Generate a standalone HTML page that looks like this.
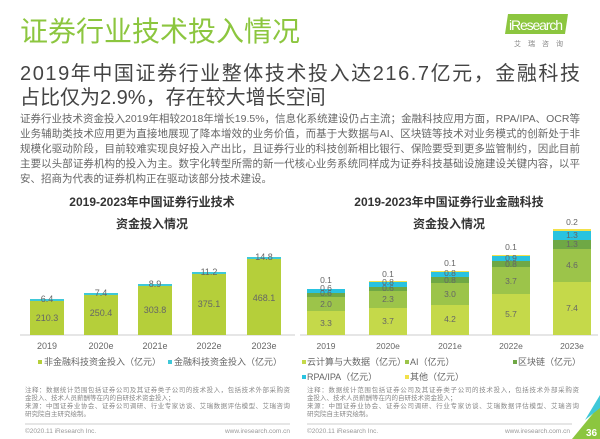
<!DOCTYPE html>
<html><head><meta charset="utf-8"><style>
html,body{margin:0;padding:0;background:#fff;}
svg{display:block;font-family:"Liberation Sans","Noto Sans CJK SC",sans-serif;}
</style></head><body>
<svg width="600" height="439" viewBox="0 0 600 439" xmlns="http://www.w3.org/2000/svg">
<rect width="600" height="439" fill="#fff"/>
<text x="20" y="41" font-size="28" fill="#8cc63f">证券行业技术投入情况</text>
<polygon points="508,14 568,14 565,34 505,34" fill="#8cc63f"/>
<text x="509" y="30" font-size="14" fill="#fff" textLength="54">iResearch</text>
<text x="514" y="46" font-size="7" fill="#888" letter-spacing="7">艾瑞咨询</text>
<text x="20" y="80" font-size="20" fill="#444" textLength="560">2019年中国证券行业整体技术投入达216.7亿元，金融科技</text>
<text x="20" y="104" font-size="20" fill="#444">占比仅为2.9%，存在较大增长空间</text>
<g font-size="10.5" fill="#666">
<text x="20" y="122" textLength="560">证券行业技术资金投入2019年相较2018年增长19.5%，信息化系统建设仍占主流；金融科技应用方面，RPA/IPA、OCR等</text>
<text x="20" y="137" textLength="560">业务辅助类技术应用更为直接地展现了降本增效的业务价值，而基于大数据与AI、区块链等技术对业务模式的创新处于非</text>
<text x="20" y="152" textLength="560">规模化驱动阶段，目前较难实现良好投入产出比，且证券行业的科技创新相比银行、保险要受到更多监管制约，因此目前</text>
<text x="20" y="167" textLength="560">主要以头部证券机构的投入为主。数字化转型所需的新一代核心业务系统同样成为证券科技基础设施建设关键内容，以平</text>
<text x="20" y="182">安、招商为代表的证券机构正在驱动该部分技术建设。</text>
</g>
<g font-size="12" font-weight="bold" fill="#333" text-anchor="middle">
<text x="152" y="206">2019-2023年中国证券行业技术</text>
<text x="152" y="228">资金投入情况</text>
<text x="449" y="206">2019-2023年中国证券行业金融科技</text>
<text x="449" y="228">资金投入情况</text>
</g>
<line x1="20" y1="335" x2="295" y2="335" stroke="#ccc" stroke-width="1"/>
<g fill="#b5cf3a">
<rect x="30" y="301" width="34" height="34"/>
<rect x="84" y="295" width="34" height="40"/>
<rect x="138" y="286" width="34" height="49"/>
<rect x="192" y="274" width="34" height="61"/>
<rect x="247" y="259" width="34" height="76"/>
</g>
<g fill="#3fc8d8">
<rect x="30" y="299" width="34" height="2"/>
<rect x="84" y="293" width="34" height="2"/>
<rect x="138" y="284" width="34" height="2"/>
<rect x="192" y="272" width="34" height="2"/>
<rect x="247" y="257" width="34" height="2"/>
</g>
<g font-size="9" fill="#666" text-anchor="middle">
<text x="47" y="302">6.4</text><text x="101" y="296">7.4</text><text x="155" y="287">8.9</text><text x="209" y="275">11.2</text><text x="264" y="260">14.8</text>
<text x="47" y="321">210.3</text><text x="101" y="316">250.4</text><text x="155" y="313">303.8</text><text x="209" y="307">375.1</text><text x="264" y="301">468.1</text>
<text x="47" y="349">2019</text><text x="101" y="349">2020e</text><text x="155" y="349">2021e</text><text x="209" y="349">2022e</text><text x="264" y="349">2023e</text>
</g>
<g font-size="9" fill="#666">
<rect x="38" y="360" width="4" height="4" fill="#b5cf3a"/><text x="44" y="365">非金融科技资金投入（亿元）</text>
<rect x="168" y="360" width="4" height="4" fill="#3fc8d8"/><text x="174" y="365">金融科技资金投入（亿元）</text>
</g>
<line x1="300" y1="335" x2="598" y2="335" stroke="#ccc" stroke-width="1"/>
<g>
<rect x="307" y="311" width="38" height="24" fill="#c5d94a"/>
<rect x="307" y="297" width="38" height="14" fill="#9cc44a"/>
<rect x="307" y="293" width="38" height="4" fill="#6fa845"/>
<rect x="307" y="289" width="38" height="4" fill="#29c3e0"/>
<rect x="369" y="308" width="38" height="27" fill="#c5d94a"/>
<rect x="369" y="291" width="38" height="17" fill="#9cc44a"/>
<rect x="369" y="287" width="38" height="4" fill="#6fa845"/>
<rect x="369" y="282" width="38" height="5" fill="#29c3e0"/>
<rect x="369" y="281" width="38" height="1" fill="#f2e14b"/>
<rect x="431" y="305" width="38" height="30" fill="#c5d94a"/>
<rect x="431" y="283" width="38" height="22" fill="#9cc44a"/>
<rect x="431" y="277" width="38" height="6" fill="#6fa845"/>
<rect x="431" y="272" width="38" height="5" fill="#29c3e0"/>
<rect x="431" y="271" width="38" height="1" fill="#f2e14b"/>
<rect x="492" y="294" width="38" height="41" fill="#c5d94a"/>
<rect x="492" y="267" width="38" height="27" fill="#9cc44a"/>
<rect x="492" y="261" width="38" height="6" fill="#6fa845"/>
<rect x="492" y="256" width="38" height="5" fill="#29c3e0"/>
<rect x="492" y="255" width="38" height="1" fill="#f2e14b"/>
<rect x="553" y="282" width="38" height="53" fill="#c5d94a"/>
<rect x="553" y="249" width="38" height="33" fill="#9cc44a"/>
<rect x="553" y="240" width="38" height="9" fill="#6fa845"/>
<rect x="553" y="231" width="38" height="9" fill="#29c3e0"/>
<rect x="553" y="229" width="38" height="2" fill="#f2e14b"/>
</g>
<g font-size="8.5" fill="#666" text-anchor="middle">
<text x="326" y="326">3.3</text><text x="326" y="307">2.0</text><text x="326" y="296">0.6</text><text x="326" y="291">0.6</text><text x="326" y="283">0.1</text>
<text x="388" y="324">3.7</text><text x="388" y="302">2.3</text><text x="388" y="291">0.6</text><text x="388" y="285">0.8</text><text x="388" y="277">0.1</text>
<text x="450" y="322">4.2</text><text x="450" y="297">3.0</text><text x="450" y="283">0.8</text><text x="450" y="276">0.8</text><text x="450" y="266">0.1</text>
<text x="511" y="317">5.7</text><text x="511" y="284">3.7</text><text x="511" y="267">0.8</text><text x="511" y="261">0.9</text><text x="511" y="250">0.1</text>
<text x="572" y="311">7.4</text><text x="572" y="268">4.6</text><text x="572" y="247">1.3</text><text x="572" y="238">1.3</text><text x="572" y="225">0.2</text>
<text x="326" y="349">2019</text><text x="388" y="349">2020e</text><text x="450" y="349">2021e</text><text x="511" y="349">2022e</text><text x="572" y="349">2023e</text>
</g>
<g font-size="9" fill="#666">
<rect x="302" y="360" width="4" height="4" fill="#c5d94a"/><text x="307" y="365">云计算与大数据（亿元）</text>
<rect x="405" y="360" width="4" height="4" fill="#9cc44a"/><text x="410" y="365">AI（亿元）</text>
<rect x="513" y="360" width="4" height="4" fill="#6fa845"/><text x="518" y="365">区块链（亿元）</text>
<rect x="302" y="375" width="4" height="4" fill="#29c3e0"/><text x="307" y="380">RPA/IPA（亿元）</text>
<rect x="405" y="375" width="4" height="4" fill="#f2e14b"/><text x="410" y="380">其他（亿元）</text>
</g>
<g font-size="6.5" fill="#888">
<text x="25" y="392" textLength="265">注释：数据统计范围包括证券公司及其证券类子公司的技术投入，包括技术外部采购资</text>
<text x="25" y="400">金投入、技术人员薪酬等在内的自研技术资金投入；</text>
<text x="25" y="408" textLength="265">来源：中国证券业协会、证券公司调研、行业专家访谈、艾瑞数据评估模型、艾瑞咨询</text>
<text x="25" y="416">研究院自主研究绘制。</text>
<text x="307" y="392" textLength="272">注释：数据统计范围包括证券公司及其证券类子公司的技术投入，包括技术外部采购资</text>
<text x="307" y="400">金投入、技术人员薪酬等在内的自研技术资金投入；</text>
<text x="307" y="408" textLength="272">来源：中国证券业协会、证券公司调研、行业专家访谈、艾瑞数据评估模型、艾瑞咨询</text>
<text x="307" y="416">研究院自主研究绘制。</text>
</g>
<line x1="25" y1="424" x2="290" y2="424" stroke="#ccc"/>
<line x1="307" y1="424" x2="572" y2="424" stroke="#ccc"/>
<g font-size="6.5" fill="#999">
<text x="25" y="433">©2020.11 iResearch Inc.</text>
<text x="290" y="433" text-anchor="end">www.iresearch.com.cn</text>
<text x="307" y="433">©2020.11 iResearch Inc.</text>
<text x="570" y="433" text-anchor="end">www.iresearch.com.cn</text>
</g>
<polygon points="600,405 600,439 572,439" fill="#8cc63f"/>
<polygon points="600,395 600,408 585,420" fill="#3fc8d8"/>
<text x="586" y="436" font-size="10" fill="#fff" font-weight="bold">36</text>
</svg>
</body></html>
